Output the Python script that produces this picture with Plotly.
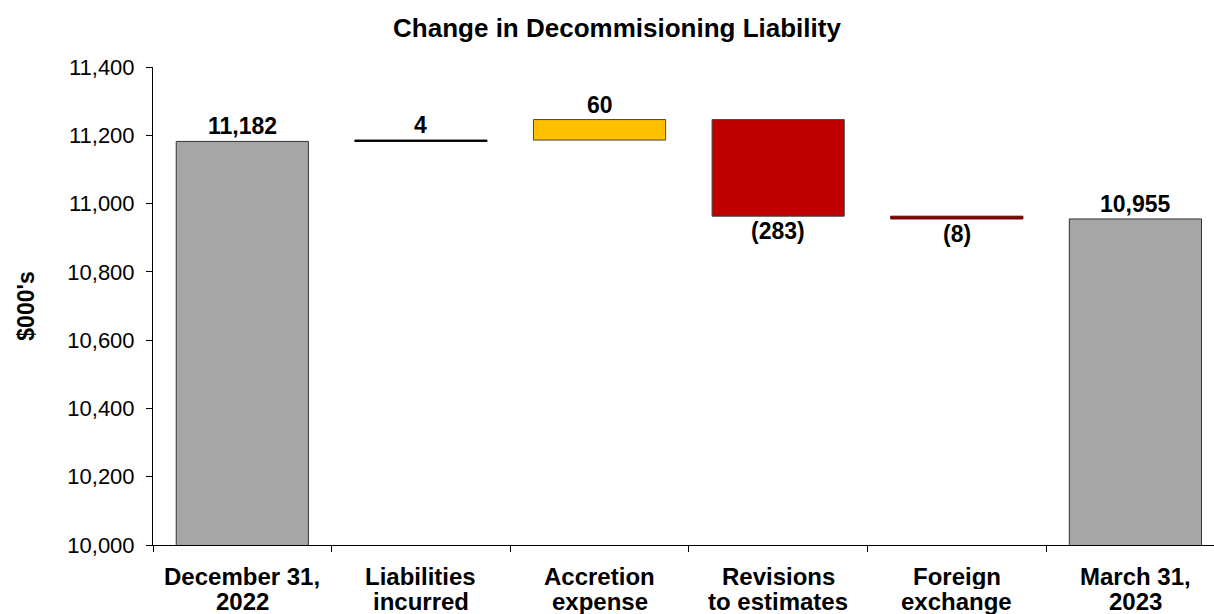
import plotly.graph_objects as go

# Waterfall steps (in $000's)
categories = ["December 31, 2022", "Liabilities incurred", "Accretion expense",
              "Revisions to estimates", "Foreign exchange", "March 31, 2023"]
label_lines = [("December 31,", "2022"), ("Liabilities", "incurred"), ("Accretion", "expense"),
               ("Revisions", "to estimates"), ("Foreign", "exchange"), ("March 31,", "2023")]
opening_balance = 11182
changes = [4, 60, -283, -8]
closing_balance = 10955
labels = ["11,182", "4", "60", "(283)", "(8)", "10,955"]
fill_colors = ["#A6A6A6", "#000000", "#FFC000", "#C00000", "#8B0000", "#A6A6A6"]
edge_colors = ["#333333", "#000000", "#444444", "#444444", "#5A0000", "#333333"]

# Bases and heights for each bar
bases = [0]
heights = [opening_balance]
running = opening_balance
for c in changes:
    bases.append(running)
    heights.append(c)
    running += c
bases.append(0)
heights.append(closing_balance)

FONT = "Arial, 'Liberation Sans', Helvetica, sans-serif"

fig = go.Figure()
fig.add_trace(go.Bar(
    x=categories,
    y=heights,
    base=bases,
    width=0.74,
    marker=dict(color=fill_colors, line=dict(color=edge_colors, width=1)),
    hoverinfo="skip",
))

# Value labels: above the top for increases/totals, below the bottom for decreases
for cat, b, h, lab in zip(categories, bases, heights, labels):
    if h >= 0:
        fig.add_annotation(x=cat, y=b + h, text=f"<b>{lab}</b>", showarrow=False,
                           yanchor="bottom", yshift=0,
                           font=dict(size=23, color="#000000", family=FONT))
    else:
        fig.add_annotation(x=cat, y=b + h, text=f"<b>{lab}</b>", showarrow=False,
                           yanchor="top", yshift=0,
                           font=dict(size=23, color="#000000", family=FONT))

# Two-line category labels under the axis (tight line spacing)
for cat, (l1, l2) in zip(categories, label_lines):
    for text, shift in ((l1, -31), (l2, -56)):
        fig.add_annotation(x=cat, xref="x", y=0, yref="paper", text=f"<b>{text}</b>",
                           showarrow=False, yanchor="middle", yshift=shift,
                           height=25, borderpad=0,
                           font=dict(size=24, color="#000000", family=FONT))

fig.update_layout(
    width=1214, height=614, autosize=False,
    margin=dict(l=153, r=0, t=67, b=69),
    paper_bgcolor="white", plot_bgcolor="white",
    showlegend=False,
    font=dict(family=FONT, color="#000000"),
    title=dict(text="<b>Change in Decommisioning Liability</b>",
               x=617 / 1214, xanchor="center", xref="container",
               y=1 - 28 / 614, yanchor="middle", yref="container",
               font=dict(size=26, color="#000000", family=FONT)),
)

fig.update_xaxes(
    type="category",
    range=[-0.5, 5.44],
    showline=True, linecolor="#000000", linewidth=1,
    ticks="outside", ticklen=6, tickcolor="#000000", tickson="boundaries",
    showticklabels=False,
    showgrid=False, zeroline=False,
)

fig.update_yaxes(
    range=[10000, 11400],
    tickvals=[10000, 10200, 10400, 10600, 10800, 11000, 11200, 11400],
    tickformat=",d",
    showline=True, linecolor="#000000", linewidth=1,
    ticks="outside", ticklen=6, tickcolor="#000000",
    ticklabelstandoff=7,
    tickfont=dict(size=22, family=FONT, color="#000000"),
    showgrid=False, zeroline=False,
    title=dict(text="<b>$000's</b>", font=dict(size=23, family=FONT, color="#000000"), standoff=26),
)

fig.write_html("out.html")
